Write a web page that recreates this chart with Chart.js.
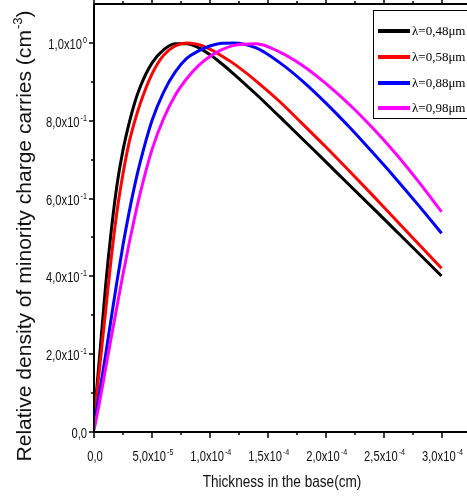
<!DOCTYPE html>
<html>
<head>
<meta charset="utf-8">
<script src="https://cdn.jsdelivr.net/npm/chart.js@4/dist/chart.umd.min.js"></script>
<style>
  html, body { margin: 0; padding: 0; background: #fff; overflow: hidden; }
  #chart { display: block; }
</style>
</head>
<body>
<canvas id="chart" width="467" height="503"></canvas>
<script>
// Depth in the base (cm)
const depth = [0, 5e-6, 1e-5, 1.5e-5, 2e-5, 2.5e-5, 3e-5, 3.5e-5, 4e-5, 5e-5, 6e-5, 7e-5, 8e-5,
    9e-5, 1e-4, 1.1e-4, 1.2e-4, 1.4e-4, 1.6e-4, 1.8e-4, 2e-4, 2.2e-4, 2.4e-4, 2.6e-4, 2.8e-4, 3e-4];

// Relative minority carrier density for each wavelength
const dens048 = [0.03, 0.20, 0.375, 0.52, 0.638, 0.724, 0.79, 0.845, 0.888, 0.948, 0.982, 0.998, 0.998,
    0.988, 0.970, 0.947, 0.922, 0.868, 0.811, 0.753, 0.695, 0.636, 0.578, 0.519, 0.460, 0.401];
const dens058 = [0.03, 0.17, 0.31, 0.45, 0.57, 0.663, 0.74, 0.797, 0.845, 0.92, 0.968, 0.992, 1.0,
    0.996, 0.984, 0.967, 0.948, 0.902, 0.850, 0.792, 0.733, 0.672, 0.610, 0.547, 0.484, 0.421];
const dens088 = [0.01, 0.105, 0.198, 0.295, 0.39, 0.48, 0.56, 0.632, 0.695, 0.80, 0.873, 0.925, 0.96,
    0.979, 0.992, 0.999, 1.0, 0.987, 0.950, 0.902, 0.846, 0.785, 0.720, 0.653, 0.583, 0.511];
const dens098 = [0.005, 0.08, 0.163, 0.245, 0.325, 0.405, 0.48, 0.55, 0.615, 0.725, 0.805, 0.865, 0.908,
    0.941, 0.965, 0.982, 0.993, 0.998, 0.977, 0.942, 0.896, 0.843, 0.783, 0.717, 0.644, 0.566];

const seriesLabels = ['λ=0,48μm', 'λ=0,58μm', 'λ=0,88μm', 'λ=0,98μm'];
const seriesColors = ['#000000', '#ff0000', '#0000ff', '#ff00ff'];
const seriesValues = [dens048, dens058, dens088, dens098];

// Axis ticks ('^' marks the power of ten)
const xTickValues = [0, 5e-5, 1e-4, 1.5e-4, 2e-4, 2.5e-4, 3e-4];
const xTickLabels = ['0,0', '5,0x10^-5', '1,0x10^-4', '1,5x10^-4', '2,0x10^-4', '2,5x10^-4', '3,0x10^-4'];
const yTickValues = [0, 0.2, 0.4, 0.6, 0.8, 1.0];
const yTickLabels = ['0,0', '2,0x10^-1', '4,0x10^-1', '6,0x10^-1', '8,0x10^-1', '1,0x10^0'];

const SANS = '"Liberation Sans", Arial, sans-serif';
const SERIF = '"Liberation Serif", "Times New Roman", serif';
const SQUEEZE = 0.8; // narrow face for the axis text

function drawSci(ctx, label, x, y, align) {
    const [mant, exp] = label.split('^');
    ctx.font = '14px ' + SANS;
    const wm = ctx.measureText(mant).width * SQUEEZE;
    let we = 0;
    if (exp) {
        ctx.font = '9px ' + SANS;
        we = ctx.measureText(exp).width * SQUEEZE + 1;
    }
    const total = wm + we;
    const x0 = align === 'center' ? x - total / 2 : x - total;
    ctx.save();
    ctx.translate(x0, y);
    ctx.scale(SQUEEZE, 1);
    ctx.textAlign = 'left';
    ctx.textBaseline = 'alphabetic';
    ctx.font = '14px ' + SANS;
    ctx.fillText(mant, 0, 0);
    if (exp) {
        ctx.font = '9px ' + SANS;
        ctx.fillText(exp, (wm + 1) / SQUEEZE, -6);
    }
    ctx.restore();
}

// frame, tick marks, labels, titles and the boxed legend
const axesPlugin = {
    id: 'axesPlugin',
    afterDraw(chart) {
        const { ctx, chartArea: a, scales: { x, y } } = chart;
        ctx.save();
        ctx.strokeStyle = '#000';
        ctx.fillStyle = '#111';

        ctx.lineWidth = 2;
        ctx.beginPath();
        ctx.moveTo(a.left, a.top);
        ctx.lineTo(a.left, a.bottom);
        ctx.lineTo(a.right, a.bottom);
        ctx.moveTo(a.left, a.top);
        ctx.lineTo(a.right, a.top);
        ctx.stroke();

        ctx.lineWidth = 1.5;
        ctx.beginPath();
        xTickValues.forEach((v, i) => {
            const px = Math.round(x.getPixelForValue(v));
            ctx.moveTo(px, a.bottom); ctx.lineTo(px, a.bottom + 6);
            ctx.moveTo(px, a.top); ctx.lineTo(px, a.top - 5);
            if (i < xTickValues.length - 1) {
                const mx = Math.round(x.getPixelForValue((v + xTickValues[i + 1]) / 2));
                ctx.moveTo(mx, a.bottom); ctx.lineTo(mx, a.bottom + 3);
                ctx.moveTo(mx, a.top); ctx.lineTo(mx, a.top - 3);
            }
        });
        yTickValues.forEach((v, i) => {
            const py = Math.round(y.getPixelForValue(v));
            ctx.moveTo(a.left, py); ctx.lineTo(a.left - 5, py);
            const next = i < yTickValues.length - 1 ? yTickValues[i + 1] : v + 0.2;
            const my = Math.round(y.getPixelForValue((v + next) / 2));
            if (my > a.top) { ctx.moveTo(a.left, my); ctx.lineTo(a.left - 3, my); }
        });
        ctx.stroke();

        xTickLabels.forEach((lab, i) => {
            drawSci(ctx, lab, x.getPixelForValue(xTickValues[i]) + 1, 461, 'center');
        });
        yTickLabels.forEach((lab, i) => {
            drawSci(ctx, lab, 87, y.getPixelForValue(yTickValues[i]) + 6, 'right');
        });

        // x title
        ctx.save();
        ctx.font = '17px ' + SANS;
        const xt = 'Thickness in the base(cm)';
        const xw = ctx.measureText(xt).width * SQUEEZE;
        ctx.translate(282 - xw / 2, 487);
        ctx.scale(SQUEEZE, 1);
        ctx.textAlign = 'left';
        ctx.fillText(xt, 0, 0);
        ctx.restore();

        // y title, rotated, with cm^-3
        ctx.save();
        ctx.translate(31, 236);
        ctx.rotate(-Math.PI / 2);
        ctx.textAlign = 'left';
        const yt = 'Relative density of minority charge carries (cm';
        ctx.font = '21px ' + SANS;
        const w1 = ctx.measureText(yt).width;
        const w3 = ctx.measureText(')').width;
        ctx.font = '13px ' + SANS;
        const w2 = ctx.measureText('-3').width + 1;
        const total = w1 + w2 + w3;
        ctx.scale(451 / total, 1);
        const s = -total / 2;
        ctx.font = '21px ' + SANS;
        ctx.fillText(yt, s, 0);
        ctx.fillText(')', s + w1 + w2, 0);
        ctx.font = '13px ' + SANS;
        ctx.fillText('-3', s + w1 + 1, -9);
        ctx.restore();

        // legend box
        ctx.lineWidth = 1;
        ctx.strokeStyle = '#000';
        ctx.fillStyle = '#fff';
        ctx.fillRect(374, 11, 100, 108);
        ctx.strokeRect(373.5, 10.5, 110, 108);
        const rows = [31, 57, 83, 108];
        seriesLabels.forEach((lab, i) => {
            ctx.strokeStyle = seriesColors[i];
            ctx.lineWidth = 4;
            ctx.beginPath();
            ctx.moveTo(378, rows[i]);
            ctx.lineTo(410, rows[i]);
            ctx.stroke();
            ctx.fillStyle = '#000';
            ctx.font = '13px ' + SERIF;
            ctx.textBaseline = 'middle';
            ctx.textAlign = 'left';
            ctx.fillText(lab, 412, rows[i] + 1);
        });
        ctx.restore();
    }
};

const datasets = seriesValues.map((vals, i) => ({
    label: seriesLabels[i],
    data: depth.map((d, k) => ({ x: d, y: vals[k] })),
    borderColor: seriesColors[i],
    backgroundColor: seriesColors[i],
    borderWidth: 3,
    pointRadius: 0,
    cubicInterpolationMode: 'monotone',
    fill: false,
    order: seriesValues.length - i
}));

const ctx = document.getElementById('chart').getContext('2d');
window.densityChart = new Chart(ctx, {
    type: 'line',
    data: { datasets },
    options: {
        responsive: false,
        animation: false,
        devicePixelRatio: 1,
        layout: { padding: { top: 4, right: 0, left: 0, bottom: 0 } },
        plugins: {
            legend: { display: false },
            tooltip: { enabled: false }
        },
        scales: {
            x: {
                type: 'linear',
                min: 0,
                max: 3.22e-4,
                grid: { display: false },
                border: { display: false },
                ticks: { display: false },
                afterFit: (scale) => { scale.height = 71; }
            },
            y: {
                min: 0,
                max: 1.1,
                grid: { display: false },
                border: { display: false },
                ticks: { display: false },
                afterFit: (scale) => { scale.width = 94; }
            }
        }
    },
    plugins: [axesPlugin]
});
</script>
</body>
</html>
